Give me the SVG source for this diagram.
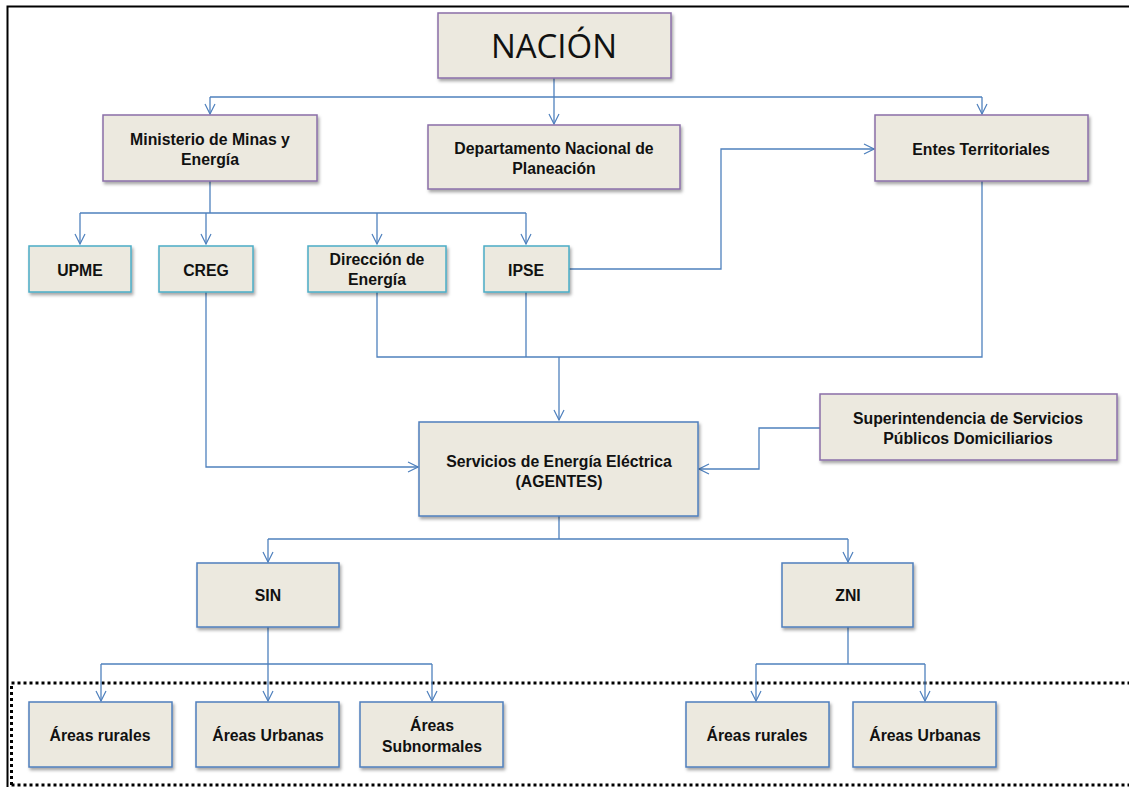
<svg xmlns="http://www.w3.org/2000/svg" width="1129" height="787" viewBox="0 0 1129 787">
<style>
.box{fill:#ECE9DF;stroke-width:1.5;filter:url(#sh)}
.p{stroke:#8A6FA8}
.t{stroke:#4BACC6}
.b{stroke:#4F7FBD}
.lbl{font-family:"Liberation Sans",Arial,sans-serif;font-weight:bold;font-size:15.8px;fill:#111;text-anchor:middle}
.c{fill:none;stroke:#4F81BD;stroke-width:1.3}
</style>
<defs>
<filter id="sh" x="-10%" y="-10%" width="125%" height="135%">
<feDropShadow dx="1.5" dy="2.5" stdDeviation="1.5" flood-color="#000" flood-opacity="0.35"/>
</filter>
<marker id="ar" viewBox="0 0 12 12" refX="11" refY="6" markerWidth="12" markerHeight="12" markerUnits="userSpaceOnUse" orient="auto">
<path d="M1,1 L11,6 L1,11" fill="none" stroke="#4F81BD" stroke-width="1.2"/>
</marker>
</defs>
<rect width="1129" height="787" fill="#fff"/>
<g id="frame" fill="none">
<path d="M7.5,787 V6.5 H1129" stroke="#000" stroke-width="2"/>
<path d="M11.5,785 V683 H1129 M11.5,785 H1129" stroke="#000" stroke-width="3" stroke-dasharray="3,3"/>
</g>
<g id="connectors">
<path class="c" d="M554,78 V97 M210,97 H982" />
<path class="c" d="M210,97 V114" marker-end="url(#ar)"/>
<path class="c" d="M554,97 V124" marker-end="url(#ar)"/>
<path class="c" d="M982,97 V114" marker-end="url(#ar)"/>
<path class="c" d="M210,181 V213 M80,213 H526"/>
<path class="c" d="M80,213 V244" marker-end="url(#ar)"/>
<path class="c" d="M206,213 V244" marker-end="url(#ar)"/>
<path class="c" d="M377,213 V244" marker-end="url(#ar)"/>
<path class="c" d="M526,213 V244" marker-end="url(#ar)"/>
<path class="c" d="M569,269 H721 V149 H874" marker-end="url(#ar)"/>
<path class="c" d="M377,292 V357 H982 V181 M526,292 V357"/>
<path class="c" d="M559,357 V420" stroke-width="2" marker-end="url(#ar)"/>
<path class="c" d="M206,292 V467 H418" marker-end="url(#ar)"/>
<path class="c" d="M820,428 H759 V469 H699" marker-end="url(#ar)"/>
<path class="c" d="M559,516 V539 M268,539 H848"/>
<path class="c" d="M268,539 V562" marker-end="url(#ar)"/>
<path class="c" d="M848,539 V562" marker-end="url(#ar)"/>
<path class="c" d="M268,627 V664 M101,664 H432"/>
<path class="c" d="M101,664 V701" marker-end="url(#ar)"/>
<path class="c" d="M268,664 V701" marker-end="url(#ar)"/>
<path class="c" d="M432,664 V701" marker-end="url(#ar)"/>
<path class="c" d="M848,627 V664 M756,664 H925"/>
<path class="c" d="M756,664 V701" marker-end="url(#ar)"/>
<path class="c" d="M925,664 V701" marker-end="url(#ar)"/>
</g>
<g id="nacion"><rect class="box p" x="438" y="13" width="233" height="65"/><text x="554" y="58" font-family="'Open Sans','Liberation Sans',sans-serif" font-size="33" fill="#111" text-anchor="middle">NACIÓN</text></g>
<g id="ministerio"><rect class="box p" x="103" y="115" width="214" height="66"/><text class="lbl" x="210" y="145">Ministerio de Minas y</text><text class="lbl" x="210" y="165">Energía</text></g>
<g id="dnp"><rect class="box p" x="428" y="125" width="252" height="64"/><text class="lbl" x="554" y="154">Departamento Nacional de</text><text class="lbl" x="554" y="174">Planeación</text></g>
<g id="entes"><rect class="box p" x="875" y="115" width="213" height="66"/><text class="lbl" x="981" y="155">Entes Territoriales</text></g>
<g id="upme"><rect class="box t" x="29" y="246" width="102" height="46"/><text class="lbl" x="80" y="276">UPME</text></g>
<g id="creg"><rect class="box t" x="159" y="246" width="94" height="46"/><text class="lbl" x="206" y="276">CREG</text></g>
<g id="direccion"><rect class="box t" x="308" y="246" width="138" height="46"/><text class="lbl" x="377" y="265">Dirección de</text><text class="lbl" x="377" y="285">Energía</text></g>
<g id="ipse"><rect class="box t" x="484" y="246" width="85" height="46"/><text class="lbl" x="526" y="276">IPSE</text></g>
<g id="servicios"><rect class="box b" x="419" y="422" width="279" height="94"/><text class="lbl" x="559" y="467">Servicios de Energía Eléctrica</text><text class="lbl" x="559" y="487">(AGENTES)</text></g>
<g id="superintendencia"><rect class="box p" x="820" y="394" width="297" height="66"/><text class="lbl" x="968" y="424">Superintendencia de Servicios</text><text class="lbl" x="968" y="444">Públicos Domiciliarios</text></g>
<g id="sin"><rect class="box b" x="197" y="563" width="142" height="64"/><text class="lbl" x="268" y="601">SIN</text></g>
<g id="zni"><rect class="box b" x="782" y="563" width="131" height="64"/><text class="lbl" x="848" y="601">ZNI</text></g>
<g id="sin-rurales"><rect class="box b" x="29" y="702" width="143" height="65"/><text class="lbl" x="100" y="741">Áreas rurales</text></g>
<g id="sin-urbanas"><rect class="box b" x="196" y="702" width="143" height="65"/><text class="lbl" x="268" y="741">Áreas Urbanas</text></g>
<g id="sin-subnormales"><rect class="box b" x="360" y="702" width="143" height="65"/><text class="lbl" x="432" y="731">Áreas</text><text class="lbl" x="432" y="752">Subnormales</text></g>
<g id="zni-rurales"><rect class="box b" x="686" y="702" width="143" height="65"/><text class="lbl" x="757" y="741">Áreas rurales</text></g>
<g id="zni-urbanas"><rect class="box b" x="853" y="702" width="143" height="65"/><text class="lbl" x="925" y="741">Áreas Urbanas</text></g>
</svg>
